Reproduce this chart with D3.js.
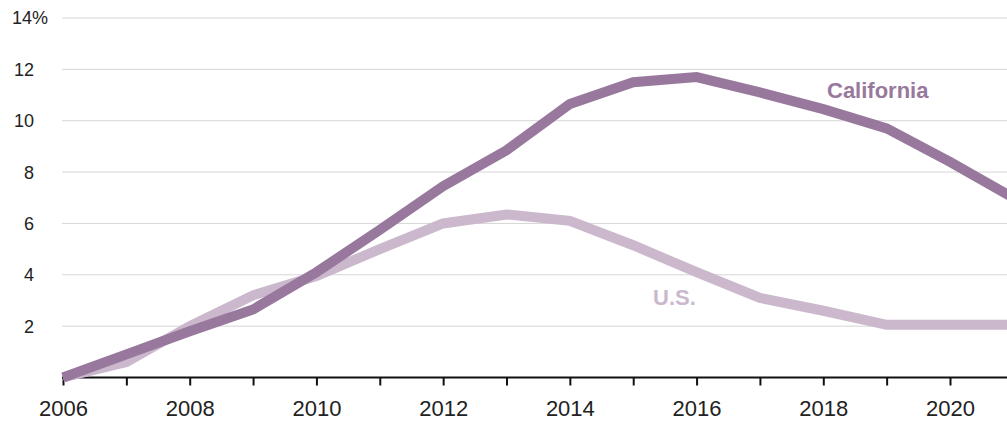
<!DOCTYPE html>
<html>
<head>
<meta charset="utf-8">
<script src="https://cdn.jsdelivr.net/npm/d3@7"></script>
<style>
  body { margin: 0; background: #fff; }
  text { font-family: "Liberation Sans", Arial, sans-serif; }
</style>
</head>
<body>
<svg id="chart" width="1007" height="424"></svg>
<script>
// years and values (percent)
const years = [2006, 2007, 2008, 2009, 2010, 2011, 2012, 2013, 2014, 2015, 2016, 2017, 2018, 2019, 2020, 2021];
const california = [0, 0.9, 1.8, 2.65, 4.1, 5.75, 7.45, 8.85, 10.65, 11.5, 11.7, 11.1, 10.45, 9.7, 8.4, 7.0];
const us = [0, 0.6, 2.0, 3.2, 3.95, 5.0, 6.0, 6.35, 6.1, 5.15, 4.1, 3.1, 2.6, 2.05, 2.05, 2.05];
const yTicks = [2, 4, 6, 8, 10, 12, 14];
const xLabels = [2006, 2008, 2010, 2012, 2014, 2016, 2018, 2020];

const svg = d3.select("#chart");
const W = 1007;

const x = d3.scaleLinear().domain([2006, 2020]).range([63, 950]);
const y = d3.scaleLinear().domain([0, 14]).range([377.5, 18]);

// gridlines
svg.append("g")
  .selectAll("line")
  .data(yTicks)
  .join("line")
    .attr("x1", 62)
    .attr("x2", W)
    .attr("y1", d => y(d))
    .attr("y2", d => y(d))
    .attr("stroke", "#d6d6d6")
    .attr("stroke-width", 1);

// y labels, right aligned on the number, % hangs out
const yl = svg.append("g")
  .selectAll("text")
  .data(yTicks)
  .join("text")
    .attr("x", 34)
    .attr("y", d => y(d))
    .attr("dy", "0.36em")
    .attr("text-anchor", "end")
    .attr("font-size", 18)
    .attr("fill", "#222");
yl.text(d => d);
yl.filter(d => d === 14)
  .attr("text-anchor", "start")
  .attr("x", 12)
  .text("14%");

// x axis
const xAxis = d3.axisBottom(x)
  .tickValues(d3.range(2006, 2022))
  .tickSize(8)
  .tickFormat(d => xLabels.includes(d) ? d : "");

const ax = svg.append("g")
  .attr("transform", `translate(0,${y(0)})`)
  .call(xAxis)
  .attr("font-size", 22)
  .attr("font-family", "Liberation Sans, Arial, sans-serif");
ax.select(".domain").remove();
ax.append("line")
  .attr("x1", x(2006) - 1)
  .attr("x2", W)
  .attr("stroke", "#111")
  .attr("stroke-width", 2);
ax.selectAll(".tick line").attr("stroke", "#111").attr("stroke-width", 2);
ax.selectAll(".tick text")
  .attr("fill", "#222")
  .attr("y", 23)
  .attr("dy", "0.71em");

// lines
const line = d3.line()
  .x((d, i) => x(years[i]))
  .y(d => y(d));

svg.append("path")
  .datum(us)
  .attr("d", line)
  .attr("fill", "none")
  .attr("stroke", "#cbb8cd")
  .attr("stroke-width", 10);

svg.append("path")
  .datum(california)
  .attr("d", line)
  .attr("fill", "none")
  .attr("stroke", "#99789e")
  .attr("stroke-width", 10);

// series labels
svg.append("text")
  .attr("x", 827)
  .attr("y", y(11.2))
  .attr("dy", "0.36em")
  .attr("font-size", 22)
  .attr("font-weight", "bold")
  .attr("fill", "#99789e")
  .text("California");

svg.append("text")
  .attr("x", 653)
  .attr("y", y(3.15))
  .attr("dy", "0.36em")
  .attr("font-size", 22)
  .attr("font-weight", "bold")
  .attr("fill", "#cbb8cd")
  .text("U.S.");
</script>
</body>
</html>
